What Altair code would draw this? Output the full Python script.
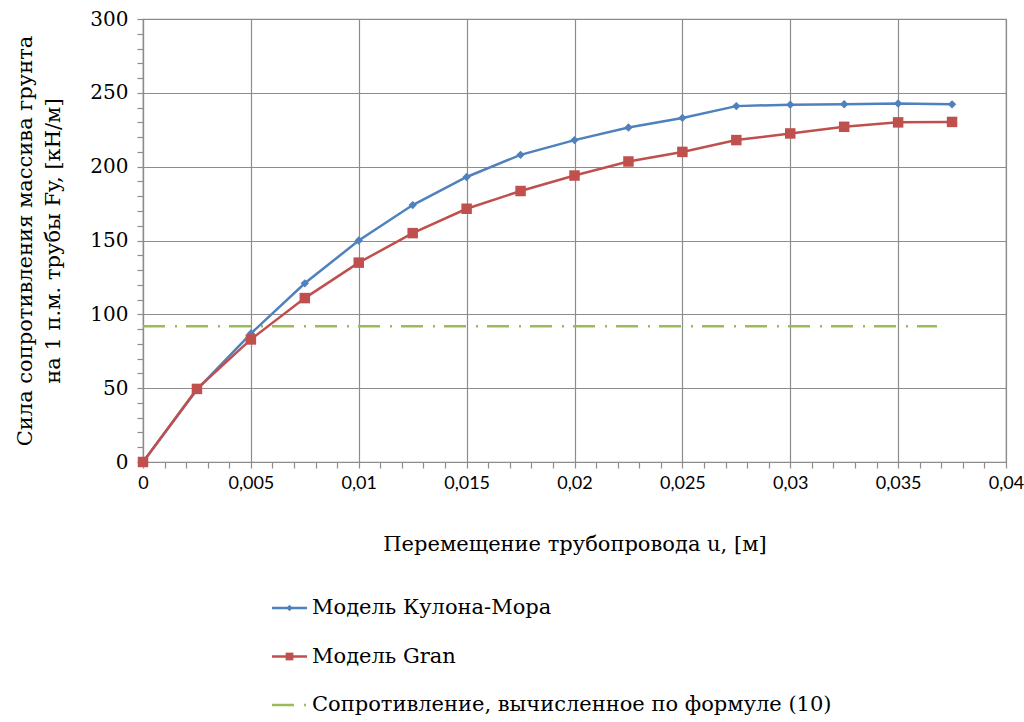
import altair as alt
import pandas as pd

# ---- data ----
u = [0, 0.0025, 0.005, 0.0075, 0.01, 0.0125, 0.015, 0.0175, 0.02,
     0.0225, 0.025, 0.0275, 0.03, 0.0325, 0.035, 0.0375]
coulomb = [0, 49, 87, 121, 150, 174, 193, 208, 218,
           226.5, 233, 241, 242, 242.3, 242.8, 242.2]
gran = [0, 49.5, 83, 111, 135, 155, 171.5, 183.5, 194,
        203.5, 210, 218, 222.5, 227, 230, 230.3]
formula_u = [0, 0.0368]
formula_F = [92, 92]

names = ["Модель Кулона-Мора", "Модель Gran",
         "Сопротивление, вычисленное по формуле (10)"]
colors = ["#4F81BD", "#C0504D", "#9BBB59"]

x_ticks = [i / 1000 for i in range(41)]
y_ticks = list(range(0, 301, 10))

df_c = pd.DataFrame({"u": u, "F": coulomb, "s": names[0]})
df_g = pd.DataFrame({"u": u, "F": gran, "s": names[1]})
df_f = pd.DataFrame({"u": formula_u, "F": formula_F, "s": names[2]})

SERIF = "DejaVu Serif"
SANS = "Lato"
GRID = "#8C8C8C"

xscale = alt.Scale(domain=[0, 0.04], nice=False, zero=True)
yscale = alt.Scale(domain=[0, 300], nice=False)

x_axis = alt.Axis(
    values=x_ticks,
    title="Перемещение трубопровода u,  [м]",
    titleFont=SERIF, titleFontSize=21, titleFontWeight="normal",
    titleColor="#000", titlePadding=41,
    labelFont=SANS, labelFontSize=18, labelColor="#000", labelPadding=6,
    labelExpr="round(datum.value*1000) % 5 == 0 ? replace(format(datum.value, '~g'), '.', ',') : ''",
    labelOverlap=False, labelFlush=False,
    grid=True, gridColor=GRID, gridWidth=1.2,
    gridOpacity={"condition": {"test": "round(datum.value*1000) % 5 == 0", "value": 1}, "value": 0},
    tickColor=GRID, tickSize=6, tickWidth=1.2,
    domainColor=GRID, domainWidth=1.2,
)
y_axis = alt.Axis(
    values=y_ticks,
    title=["Сила сопротивления массива грунта", "на 1 п.м. трубы  Fy, [кН/м]"],
    titleFont=SERIF, titleFontSize=21, titleFontWeight="normal",
    titleColor="#000", titlePadding=26, titleLineHeight=28,
    labelFont=SERIF, labelFontSize=20, labelColor="#000", labelPadding=9,
    labelExpr="datum.value % 50 == 0 ? datum.value : ''",
    labelOverlap=False, labelFlush=False,
    grid=True, gridColor=GRID, gridWidth=1.2,
    gridOpacity={"condition": {"test": "datum.value % 50 == 0", "value": 1}, "value": 0},
    tickColor=GRID, tickSize=6, tickWidth=1.2,
    domainColor=GRID, domainWidth=1.2,
)

X = alt.X("u:Q", scale=xscale, axis=x_axis)
Y = alt.Y("F:Q", scale=yscale, axis=y_axis)

formula = alt.Chart(df_f).mark_line(
    color=colors[2], strokeWidth=2.5, strokeDash=[22, 10, 2, 9]
).encode(x=X, y=Y)

c_line = alt.Chart(df_c).mark_line(color=colors[0], strokeWidth=2.5).encode(x=X, y=Y)
c_pts = alt.Chart(df_c).mark_point(
    shape="diamond", filled=True, color=colors[0], size=70, opacity=1
).encode(x=X, y=Y)
g_line = alt.Chart(df_g).mark_line(color=colors[1], strokeWidth=2.5).encode(x=X, y=Y)
g_pts = alt.Chart(df_g).mark_point(
    shape="square", filled=True, color=colors[1], size=110, opacity=1
).encode(x=X, y=Y)

main = alt.layer(formula, c_line, c_pts, g_line, g_pts)

# ---- legend, placed below the plot through its own row scale ----
leg_df = pd.DataFrame({"s": names})
ly = alt.Y("s:N", scale=alt.Scale(type="point", domain=names, range=[589, 686], padding=0), axis=None)
lcolor = alt.Color("s:N", scale=alt.Scale(domain=names, range=colors), legend=None)

leg_line = alt.Chart(leg_df).mark_rule(strokeWidth=2.5).encode(
    x=alt.value(129), x2=alt.value(164), y=ly, color=lcolor,
    strokeDash=alt.StrokeDash("s:N", scale=alt.Scale(domain=names, range=[[1, 0], [1, 0], [22, 10, 2, 9]]), legend=None),
)
leg_pts = alt.Chart(leg_df).transform_filter(
    alt.datum.s != names[2]
).mark_point(filled=True, opacity=1).encode(
    x=alt.value(146.5), y=ly, color=lcolor,
    shape=alt.Shape("s:N", scale=alt.Scale(domain=names[:2], range=["diamond", "square"]), legend=None),
    size=alt.Size("s:N", scale=alt.Scale(domain=names[:2], range=[40, 60]), legend=None),
)
leg_txt = alt.Chart(leg_df).mark_text(
    align="left", baseline="middle", font=SERIF, fontSize=21, color="#000"
).encode(x=alt.value(169), y=ly, text="s:N")

legend = alt.layer(leg_line, leg_pts, leg_txt)

chart = alt.layer(main, legend).resolve_scale(
    y="independent", color="independent", shape="independent",
    size="independent", strokeDash="independent",
).properties(
    width=863, height=443,
    view=alt.ViewBackground(stroke=GRID, strokeWidth=1.2),
    autosize=alt.AutoSizeParams(type="none"),
    padding={"left": 143, "top": 19, "right": 18, "bottom": 260},
    background="white",
)

chart.save("out.html", embed_options={"renderer": "svg", "actions": False})
